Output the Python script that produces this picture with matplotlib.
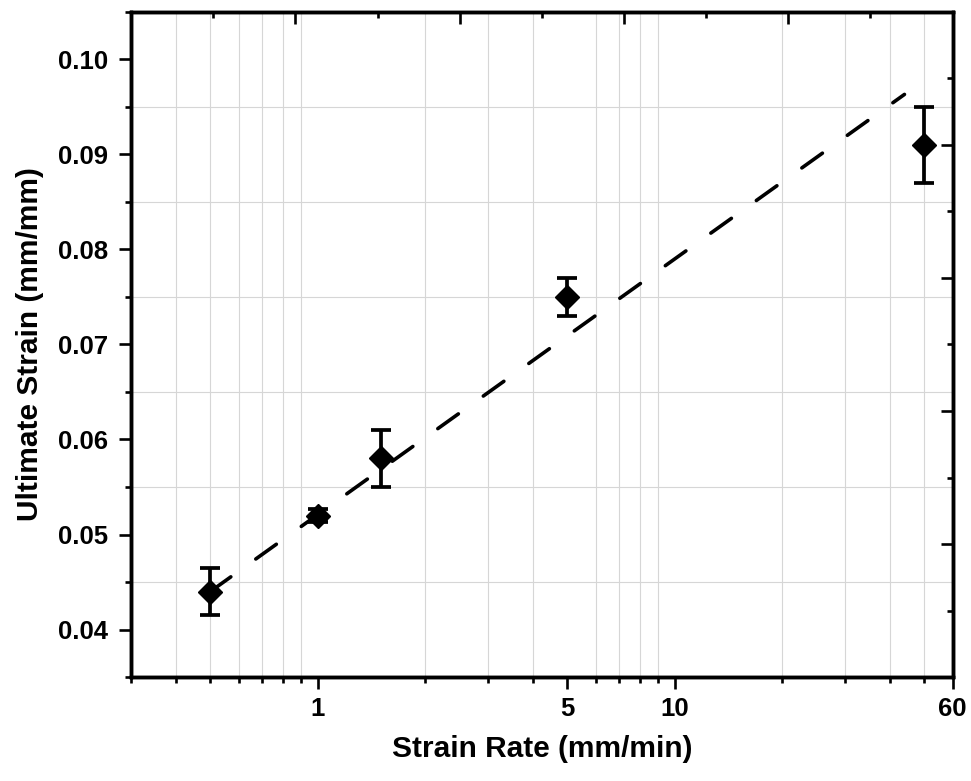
import numpy as np
import matplotlib
matplotlib.use('Agg')
import matplotlib.pyplot as plt
from matplotlib.ticker import FixedLocator, FixedFormatter, MultipleLocator, FormatStrFormatter, NullFormatter

plt.rcParams['font.family'] = ['Liberation Sans', 'DejaVu Sans']
plt.rcParams['font.weight'] = 'bold'

# data
strain_rate = [0.5, 1.0, 1.5, 5.0, 50.0]
ult_strain = [0.044, 0.052, 0.058, 0.075, 0.091]
strain_err = [0.0025, 0.0007, 0.003, 0.002, 0.004]

# dashed fit line (straight in log-x)
fit_x = [0.5, 44.0]
fit_y = [0.044, 0.0963]

x_major = [1, 5, 10, 60]
x_major_labels = ['1', '5', '10', '60']
x_minor = [0.3, 0.4, 0.5, 0.6, 0.7, 0.8, 0.9, 2, 3, 4, 6, 7, 8, 9, 20, 30, 40, 50]

fig = plt.figure(figsize=(9.71, 7.81), dpi=100)
ax = fig.add_axes([0.135, 0.133, 0.846, 0.852])

ax.plot(fit_x, fit_y, color='black', linewidth=2.6, dashes=(7, 8.5),
        dash_capstyle='round', zorder=3)
ax.errorbar(strain_rate, ult_strain, yerr=strain_err, fmt='D', color='black',
            markersize=12, elinewidth=2.7, capsize=7, capthick=2.7, zorder=4)

ax.set_xscale('log')
ax.set_xlim(0.3, 60)
ax.set_ylim(0.035, 0.105)

ax.xaxis.set_major_locator(FixedLocator(x_major))
ax.xaxis.set_major_formatter(FixedFormatter(x_major_labels))
ax.xaxis.set_minor_locator(FixedLocator(x_minor))
ax.xaxis.set_minor_formatter(NullFormatter())

ax.yaxis.set_major_locator(MultipleLocator(0.01))
ax.yaxis.set_minor_locator(FixedLocator(np.arange(0.035, 0.1051, 0.01)))
ax.yaxis.set_major_formatter(FormatStrFormatter('%.2f'))

ax.grid(which='minor', color='#d6d6d6', linewidth=0.8)
ax.grid(which='major', visible=False)
ax.set_axisbelow(True)

ax.tick_params(which='major', direction='out', length=8.5, width=1.9,
               labelsize=18.5, top=False, right=False)
ax.tick_params(axis='y', which='major', pad=8)
ax.tick_params(axis='x', which='major', pad=6)
ax.tick_params(which='minor', direction='out', length=4.5, width=1.9,
               top=False, right=False)

for s in ax.spines.values():
    s.set_linewidth(2.4)

ax.set_xlabel('Strain Rate (mm/min)', fontsize=21.5, fontweight='bold', labelpad=10)
ax.set_ylabel('Ultimate Strain (mm/mm)', fontsize=21.5, fontweight='bold', labelpad=10)

# Origin-style independent top and right axes (ticks only)
axr = ax.twinx()
axr.set_ylim(0, 1)
axr.yaxis.set_major_locator(MultipleLocator(0.2))
axr.yaxis.set_minor_locator(MultipleLocator(0.1))
axr.tick_params(which='major', direction='in', length=8.5, width=1.9, labelright=False)
axr.tick_params(which='minor', direction='in', length=4.5, width=1.9)

axt = ax.twiny()
axt.set_xlim(0, 1)
axt.xaxis.set_major_locator(MultipleLocator(0.2))
axt.xaxis.set_minor_locator(MultipleLocator(0.1))
axt.tick_params(which='major', direction='in', length=8.5, width=1.9, labeltop=False)
axt.tick_params(which='minor', direction='in', length=4.5, width=1.9)

for a in (axr, axt):
    for s in a.spines.values():
        s.set_linewidth(2.4)

fig.savefig('out.png', dpi=100)
